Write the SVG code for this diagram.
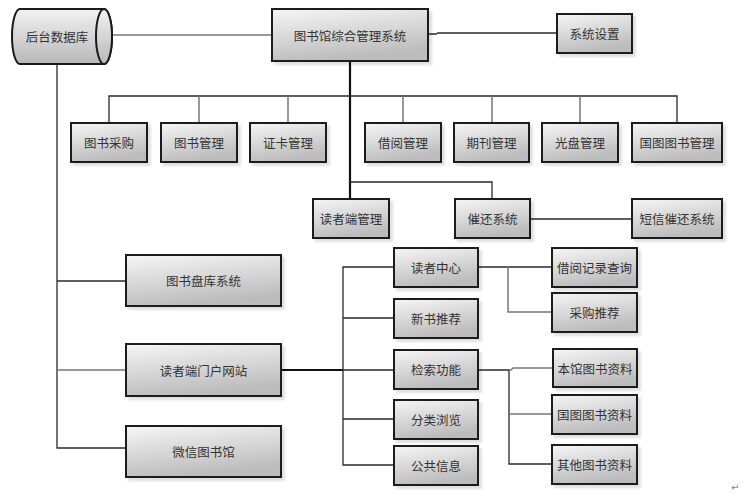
<svg xmlns="http://www.w3.org/2000/svg" width="745" height="497" viewBox="0 0 745 497">
<defs>
<linearGradient id="g" x1="0" y1="0" x2="0.3" y2="1">
<stop offset="0" stop-color="#f6f6f6"/>
<stop offset="1" stop-color="#bcbcbc"/>
</linearGradient>
<linearGradient id="gc" x1="0" y1="0" x2="0" y2="1">
<stop offset="0" stop-color="#f2f2f2"/>
<stop offset="1" stop-color="#b8b8b8"/>
</linearGradient>
<filter id="sh" x="-10%" y="-10%" width="130%" height="140%">
<feDropShadow dx="3" dy="3" stdDeviation="1.2" flood-color="#000" flood-opacity="0.12"/>
</filter>
</defs>
<style>
.box{fill:url(#g);stroke:#1a1a1a;stroke-width:2;filter:url(#sh)}
.t{font-family:"Noto Sans CJK SC","Noto Sans CJK JP",sans-serif;font-size:12.5px;fill:#333;text-anchor:middle;dominant-baseline:central}
.c{fill:none;stroke:#2a2a2a;stroke-width:1.3}
.cg{fill:none;stroke:#777;stroke-width:1.5}
.ck{fill:none;stroke:#111;stroke-width:2.2}
</style>
<rect width="745" height="497" fill="#fff"/>
<g id="connectors">
<path class="cg" d="M112,35H272"/>
<path class="c" d="M428,34H436L438,33H557"/>
<path class="ck" d="M350,61V199"/>
<path class="c" d="M109,123V96H677V123"/>
<path class="cg" d="M199,96V123M288,96V123M403,96V123M492,96V123M580,96V123"/>
<path class="c" d="M350,182H492V199"/>
<path class="c" d="M530,219H632"/>
<path class="c" d="M57,64V448H126"/>
<path class="c" d="M57,281H126"/>
<path class="cg" d="M57,370H126"/>
<path class="ck" d="M281,370H343"/>
<path class="c" d="M394,267H343V465H394"/>
<path class="c" d="M343,318H394M343,370H394M343,419H394"/>
<path class="c" d="M478,267H552"/>
<path class="cg" d="M508,267V312H552"/>
<path class="c" d="M478,370H509V464H552"/>
<path class="cg" d="M509,370H511L513,368H553"/>
<path class="cg" d="M509,414H552"/>
</g>
<g id="db">
<path d="M20,9H104A8,27.5 0 0 1 104,64H20A8,27.5 0 0 1 20,9Z" fill="url(#gc)" stroke="#1a1a1a" stroke-width="2"/>
<ellipse cx="104" cy="36.5" rx="8" ry="27.5" fill="url(#gc)" stroke="#1a1a1a" stroke-width="2"/>
<text class="t" x="57" y="36">后台数据库</text>
</g>
<g id="main"><rect class="box" x="272" y="9" width="156" height="52"/><text class="t" x="350" y="35">图书馆综合管理系统</text></g>
<g id="settings"><rect class="box" x="557" y="14" width="75" height="39"/><text class="t" x="594.5" y="33.5">系统设置</text></g>
<g id="n1"><rect class="box" x="71" y="123" width="76" height="39"/><text class="t" x="109" y="142.5">图书采购</text></g>
<g id="n2"><rect class="box" x="161" y="123" width="76" height="39"/><text class="t" x="199" y="142.5">图书管理</text></g>
<g id="n3"><rect class="box" x="250" y="123" width="76" height="39"/><text class="t" x="288" y="142.5">证卡管理</text></g>
<g id="n4"><rect class="box" x="365" y="123" width="76" height="39"/><text class="t" x="403" y="142.5">借阅管理</text></g>
<g id="n5"><rect class="box" x="454" y="123" width="75" height="39"/><text class="t" x="491.5" y="142.5">期刊管理</text></g>
<g id="n6"><rect class="box" x="542" y="123" width="76" height="39"/><text class="t" x="580" y="142.5">光盘管理</text></g>
<g id="n7"><rect class="box" x="632" y="123" width="90" height="39"/><text class="t" x="677" y="142.5">国图图书管理</text></g>
<g id="n8"><rect class="box" x="313" y="199" width="76" height="39"/><text class="t" x="351" y="218.5">读者端管理</text></g>
<g id="n9"><rect class="box" x="455" y="199" width="75" height="39"/><text class="t" x="492.5" y="218.5">催还系统</text></g>
<g id="n10"><rect class="box" x="632" y="199" width="90" height="39"/><text class="t" x="677" y="218.5">短信催还系统</text></g>
<g id="n11"><rect class="box" x="394" y="248" width="84" height="39"/><text class="t" x="436" y="267">读者中心</text></g>
<g id="n12"><rect class="box" x="552" y="248" width="85" height="39"/><text class="t" x="594.5" y="267">借阅记录查询</text></g>
<g id="n13"><rect class="box" x="552" y="293" width="85" height="39"/><text class="t" x="594.5" y="312">采购推荐</text></g>
<g id="n14"><rect class="box" x="394" y="299" width="84" height="39"/><text class="t" x="436" y="318">新书推荐</text></g>
<g id="n15"><rect class="box" x="394" y="350" width="84" height="39"/><text class="t" x="436" y="369.5">检索功能</text></g>
<g id="n16"><rect class="box" x="553" y="349" width="84" height="38"/><text class="t" x="595" y="368">本馆图书资料</text></g>
<g id="n17"><rect class="box" x="552" y="395" width="85" height="39"/><text class="t" x="594.5" y="414">国图图书资料</text></g>
<g id="n18"><rect class="box" x="552" y="445" width="85" height="39"/><text class="t" x="594.5" y="464">其他图书资料</text></g>
<g id="n19"><rect class="box" x="394" y="400" width="84" height="39"/><text class="t" x="436" y="419">分类浏览</text></g>
<g id="n20"><rect class="box" x="394" y="446" width="84" height="39"/><text class="t" x="436" y="465">公共信息</text></g>
<g id="n21"><rect class="box" x="126" y="255" width="155" height="51"/><text class="t" x="203.5" y="280.5">图书盘库系统</text></g>
<g id="n22"><rect class="box" x="126" y="344" width="155" height="52"/><text class="t" x="203.5" y="370">读者端门户网站</text></g>
<g id="n23"><rect class="box" x="126" y="426" width="155" height="51"/><text class="t" x="203.5" y="451.5">微信图书馆</text></g>
<text x="731" y="491" font-family="DejaVu Sans,sans-serif" font-size="10" fill="#888">↵</text>
</svg>
